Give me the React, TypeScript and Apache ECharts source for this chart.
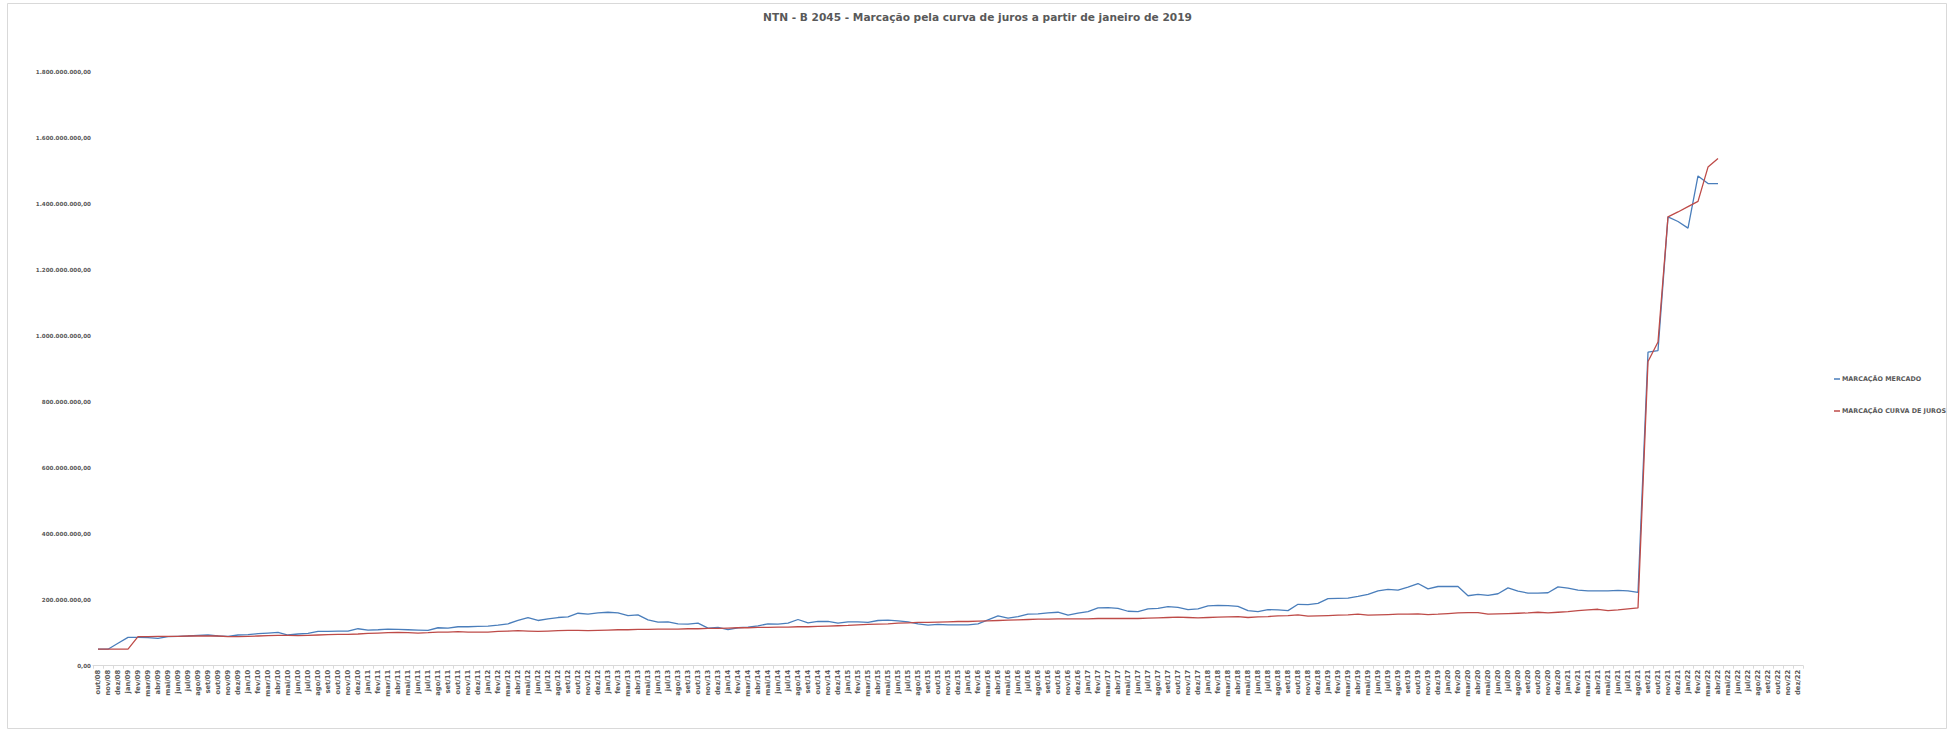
import React, { useEffect, useRef } from "react";
import * as echarts from "echarts";

const TITLE = "NTN - B 2045 - Marcação pela curva de juros a partir de janeiro de 2019";
const MONTHS = ["jan", "fev", "mar", "abr", "mai", "jun", "jul", "ago", "set", "out", "nov", "dez"];
const START_YEAR = 2008;
const START_MONTH = 9; // out
const END_YEAR = 2022;
const END_MONTH = 11; // dez

const categories: string[] = [];
for (let y = START_YEAR; y <= END_YEAR; y++) {
  const m0 = y === START_YEAR ? START_MONTH : 0;
  const m1 = y === END_YEAR ? END_MONTH : 11;
  for (let m = m0; m <= m1; m++) categories.push(MONTHS[m] + "/" + String(y).slice(2));
}

// values in millions of R$
const mercado = [
  50, 50, 68, 86, 86, 85, 83, 88, 89, 90, 92, 93, 90, 89, 93, 94, 97, 99, 101, 93,
  96, 98, 104, 104, 105, 105, 112, 108, 109, 111, 110, 109, 108, 107, 115, 114, 118, 118, 119, 120,
  123, 127, 137, 146, 137, 142, 146, 148, 159, 156, 160, 162, 160, 152, 154, 139, 132, 133, 127, 126,
  129, 114, 116, 109, 115, 117, 121, 127, 126, 129, 140, 130, 134, 134, 129, 133, 133, 131, 137, 138,
  136, 133, 127, 123, 125, 124, 124, 124, 127, 139, 151, 144, 149, 156, 157, 160, 162, 153, 159, 164,
  175, 176, 174, 165, 164, 172, 174, 179, 177, 170, 172, 181, 183, 182, 180, 167, 164, 170, 169, 167,
  186, 185, 189, 203, 204, 205, 210, 216, 227, 231, 229, 238, 249, 233, 240, 240, 240, 212, 216, 213,
  218, 236, 226, 220, 220, 221, 239, 235, 229, 227, 227, 227, 228, 227, 222, 950, 955, 1360, 1346, 1326,
  1484, 1461, 1461,
];

const curva = [
  50, 50, 50, 50, 88, 88, 89, 89, 89, 90, 90, 90, 90, 88, 88, 89, 90, 91, 92, 92,
  91, 92, 93, 94, 95, 95, 96, 98, 99, 100, 101, 100, 99, 100, 102, 102, 103, 102, 102, 102,
  104, 105, 106, 105, 104, 105, 106, 107, 107, 106, 107, 108, 109, 109, 110, 110, 111, 111, 111, 112,
  112, 113, 113, 114, 115, 115, 116, 116, 117, 117, 118, 118, 119, 120, 121, 122, 124, 125, 126, 127,
  129, 130, 131, 131, 132, 133, 134, 134, 135, 136, 137, 138, 139, 140, 141, 141, 142, 142, 142, 142,
  143, 143, 143, 143, 143, 144, 145, 146, 147, 146, 145, 146, 147, 148, 149, 146, 148, 149, 151, 152,
  154, 150, 151, 152, 153, 154, 156, 153, 154, 155, 156, 156, 157, 155, 156, 158, 160, 161, 161, 156,
  157, 158, 159, 160, 162, 160, 162, 164, 167, 169, 171, 167, 169, 172, 175, 922, 981, 1360, 1375, 1391,
  1407, 1511, 1537,
];

const SERIES_NAMES = ["MARCAÇÃO MERCADO", "MARCAÇÃO CURVA DE JUROS"];
const Y_MIN = 0;
const Y_MAX = 1800000000;
const Y_STEP = 200000000;

function fmt(v: number): string {
  return Math.round(v).toString().replace(/\B(?=(\d{3})+(?!\d))/g, ".") + ",00";
}

export default function App() {
  const ref = useRef<HTMLDivElement>(null);
  useEffect(() => {
    if (!ref.current) return;
    const chart = echarts.init(ref.current, undefined, { renderer: "svg" });
    const font = "DejaVu Sans";
    const grey = "#595959";
    chart.setOption({
      animation: false,
      backgroundColor: "#ffffff",
      textStyle: { fontFamily: font },
      title: {
        text: TITLE,
        left: "center",
        top: 6,
        textStyle: { fontFamily: font, fontSize: 10.6, fontWeight: "bold", color: grey },
      },
      graphic: [
        {
          type: "rect",
          shape: { x: 7.5, y: 3.5, width: 1939, height: 725 },
          style: { fill: "none", stroke: "#d9d9d9", lineWidth: 1 },
          silent: true,
        },
      ],
      legend: {
        orient: "vertical",
        left: 1829,
        top: 371,
        itemGap: 26,
        itemWidth: 6,
        itemHeight: 1.5,
        icon: "rect",
        data: SERIES_NAMES,
        textStyle: { fontFamily: font, fontSize: 6.4, fontWeight: "bold", color: grey, padding: [0, 0, 0, -3] },
      },
      grid: { left: 93, right: 152, top: 71.7, bottom: 65.3, containLabel: false },
      xAxis: {
        type: "category",
        data: categories,
        boundaryGap: true,
        axisLine: { show: true, lineStyle: { color: "#d9d9d9", width: 1 } },
        axisTick: { show: true, interval: 0, length: 3, lineStyle: { color: "#d9d9d9" } },
        axisLabel: {
          interval: 0,
          rotate: 90,
          margin: 4,
          fontSize: 6.8,
          fontWeight: "bold",
          color: grey,
          fontFamily: font,
        },
        splitLine: { show: false },
      },
      yAxis: {
        type: "value",
        min: Y_MIN,
        max: Y_MAX,
        interval: Y_STEP,
        axisLine: { show: false },
        axisTick: { show: false },
        splitLine: { show: false },
        axisLabel: {
          formatter: (v: number) => fmt(v),
          fontSize: 5.6,
          fontWeight: "bold",
          color: grey,
          margin: 2,
          fontFamily: font,
        },
      },
      series: [
        {
          name: SERIES_NAMES[0],
          type: "line",
          data: mercado.map((v) => v * 1e6),
          symbol: "none",
          lineStyle: { color: "#4A7EBB", width: 1.3 },
          itemStyle: { color: "#4A7EBB" },
        },
        {
          name: SERIES_NAMES[1],
          type: "line",
          data: curva.map((v) => v * 1e6),
          symbol: "none",
          lineStyle: { color: "#BE4B48", width: 1.3 },
          itemStyle: { color: "#BE4B48" },
        },
      ],
    });
    return () => chart.dispose();
  }, []);
  return (
    <div
      ref={ref}
      style={{ position: "absolute", left: 0, top: 0, width: 1955, height: 731 }}
    />
  );
}
